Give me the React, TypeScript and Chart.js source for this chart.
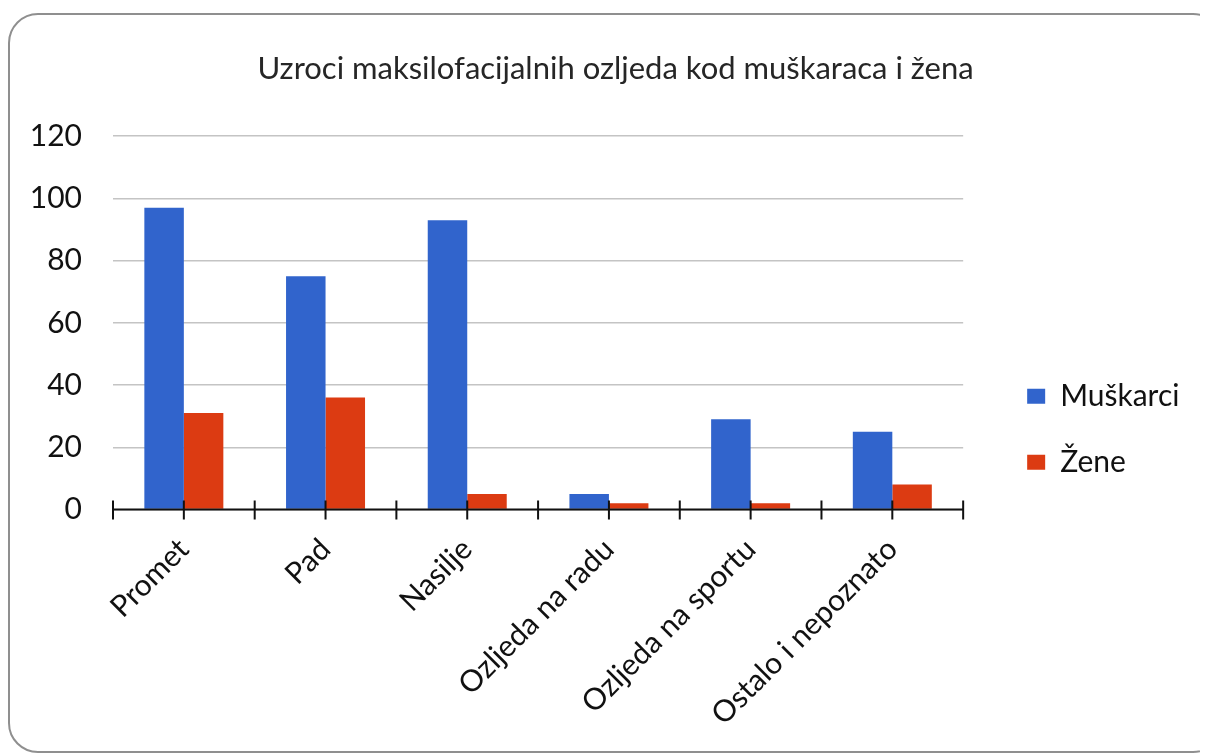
import React, { useEffect, useRef } from "react";
import { Chart, registerables } from "chart.js";

Chart.register(...registerables);

const categories = [
  "Promet",
  "Pad",
  "Nasilje",
  "Ozljeda na radu",
  "Ozljeda na sportu",
  "Ostalo i nepoznato",
];
const muskarci = [97, 75, 93, 5, 29, 25];
const zene = [31, 36, 5, 2, 2, 8];
const seriesNames = ["Muškarci", "Žene"];
const titleText = "Uzroci maksilofacijalnih ozljeda kod muškaraca i žena";
const yMin = 0;
const yMax = 120;
const yStep = 20;

const FONT = "Lato";

const axisPlugin = {
  id: "crossTicks",
  afterDatasetsDraw(chart: any) {
    const x = chart.scales.x;
    const y = chart.scales.y;
    const ctx = chart.ctx;
    const y0 = y.getPixelForValue(0);
    const area = chart.chartArea;
    ctx.save();
    ctx.strokeStyle = "#111";
    ctx.lineWidth = 2;
    ctx.beginPath();
    ctx.moveTo(area.left, y0);
    ctx.lineTo(area.right, y0);
    ctx.stroke();
    const n = chart.data.labels.length;
    ctx.beginPath();
    for (let i = 0; i <= n; i++) {
      const xb = x.getPixelForValue(i - 0.5);
      ctx.moveTo(xb, y0 - 9);
      ctx.lineTo(xb, y0 + 10);
    }
    for (let i = 0; i < n; i++) {
      const xc = x.getPixelForValue(i);
      ctx.moveTo(xc, y0 - 9);
      ctx.lineTo(xc, y0 + 10);
    }
    ctx.stroke();
    ctx.restore();
  },
};

export default function App() {
  const ref = useRef<HTMLCanvasElement>(null);

  useEffect(() => {
    if (!ref.current) return;
    const chart = new Chart(ref.current, {
      type: "bar",
      data: {
        labels: categories,
        datasets: [
          {
            label: seriesNames[0],
            data: muskarci,
            backgroundColor: "#3164CC",
            borderWidth: 0,
          },
          {
            label: seriesNames[1],
            data: zene,
            backgroundColor: "#DC3B12",
            borderWidth: 0,
          },
        ],
      },
      options: {
        responsive: false,
        animation: false,
        devicePixelRatio: 1,
        layout: { padding: { left: 44, right: 44, top: 0, bottom: 0 } },
        datasets: {
          bar: { categoryPercentage: 0.5575, barPercentage: 1 },
        },
        plugins: {
          title: {
            display: true,
            text: titleText,
            color: "#262626",
            font: { family: FONT, size: 31, weight: "normal" },
            padding: { top: 42, bottom: 49 },
          },
          legend: {
            position: "right",
            title: { display: true, text: "", padding: 40, font: { size: 12 } },
            labels: {
              boxWidth: 18,
              boxHeight: 15,
              padding: 36,
              color: "#111",
              font: { family: FONT, size: 30 },
            },
          },
          tooltip: { enabled: false },
        },
        scales: {
          x: {
            grid: { display: false, drawTicks: false },
            border: { display: false },
            ticks: {
              color: "#111",
              font: { family: FONT, size: 30 },
              minRotation: 45,
              maxRotation: 45,
              padding: 22,
            },
            afterFit(s: any) {
              s.height = 246.5;
            },
          },
          y: {
            min: yMin,
            max: yMax,
            grid: { color: "#C4C4C4", lineWidth: 1.5, drawTicks: false },
            border: { display: false },
            ticks: {
              stepSize: yStep,
              color: "#111",
              padding: 31,
              font: { family: FONT, size: 30 },
            },
            afterFit(s: any) {
              s.width = 61;
              s._computeLabelArea = () => undefined;
            },
          },
          gap: {
            type: "linear",
            position: "right",
            display: true,
            grid: { display: false, drawTicks: false },
            border: { display: false },
            ticks: { display: false },
            afterFit(s: any) {
              s.width = 28;
            },
          },
        },
      },
      plugins: [axisPlugin],
    } as any);
    return () => chart.destroy();
  }, []);

  return (
    <div
      style={{
        position: "relative",
        width: 1200,
        height: 748,
        overflow: "hidden",
        background: "#fff",
      }}
    >
      <div
        style={{
          position: "absolute",
          left: 0,
          top: 5,
          width: 1215,
          height: 740,
          border: "2px solid #8f8f8f",
          borderRadius: 30,
          boxSizing: "border-box",
        }}
      />
      <canvas
        ref={ref}
        width={1215}
        height={748}
        style={{ position: "absolute", left: 0, top: 0, width: 1215, height: 748 }}
      />
    </div>
  );
}
